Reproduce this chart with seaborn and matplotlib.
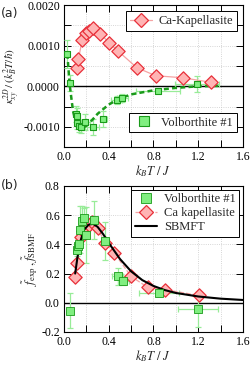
import numpy as np
import pandas as pd
import matplotlib
matplotlib.use("Agg")
import matplotlib.pyplot as plt
from matplotlib.ticker import MultipleLocator, FormatStrFormatter
from matplotlib.lines import Line2D
import seaborn as sns

# ---------------- data ----------------
# (a) Ca-Kapellasite
ca_top_x = [0.114, 0.129, 0.162, 0.197, 0.227, 0.262, 0.324, 0.404, 0.487, 0.65, 0.82, 1.06, 1.31]
ca_top_y = [0.00044, 0.00067, 0.00113, 0.00132, 0.00136, 0.00143, 0.00130, 0.00107, 0.00086,
            0.00046, 0.00026, 0.00021, 0.00010]
# (a) Volborthite #1
vb_top_x = [0.03, 0.05, 0.11, 0.115, 0.12, 0.135, 0.15, 0.19, 0.26, 0.35, 0.47, 0.52, 0.84, 1.19]
vb_top_y = [0.00080, 0.00008, -0.00068, -0.00073, -0.00090, -0.00098, -0.00100, -0.00088,
            -0.00100, -0.00080, -0.00033, -0.00028, -0.00012, 0.00005]
vb_top_yerr = [0.00035, 0.00020, 0.00020, 0.00020, 0.00015, 0.00015, 0.00015, 0.00020,
               0.00020, 0.00020, 0.00010, 0.00010, 0.00005, 0.00020]
vb_top_xerr = [0, 0, 0, 0, 0, 0, 0, 0.04, 0.05, 0.03, 0.05, 0.05, 0.20, 0.20]
# (a) dashed guide curve for Volborthite
vb_fit_x = [0.03, 0.05, 0.08, 0.11, 0.14, 0.18, 0.23, 0.30, 0.40, 0.50, 0.60, 0.80, 1.00, 1.20, 1.40]
vb_fit_y = [0.00080, 0.00005, -0.00060, -0.00095, -0.00105, -0.00102, -0.00090, -0.00068,
            -0.00045, -0.00030, -0.00020, -0.00010, -0.00004, 0.00000, 0.00001]

# (b) Volborthite #1
vb_bot_x = [0.05, 0.12, 0.125, 0.13, 0.14, 0.16, 0.175, 0.20, 0.27, 0.37, 0.48, 0.53, 0.85, 1.20]
vb_bot_y = [-0.055, 0.36, 0.39, 0.40, 0.50, 0.56, 0.58, 0.465, 0.567, 0.425, 0.18, 0.15, 0.065, -0.045]
vb_bot_yerr = [0.12, 0.04, 0.05, 0.05, 0.16, 0.10, 0.07, 0.19, 0.13, 0.13, 0.06, 0.03, 0.02, 0.12]
vb_bot_xerr = [0, 0, 0, 0, 0, 0, 0, 0, 0.03, 0.03, 0.05, 0.05, 0.18, 0.18]
# (b) Ca kapellasite
ca_bot_x = [0.10, 0.12, 0.15, 0.17, 0.19, 0.22, 0.25, 0.30, 0.37, 0.45, 0.60, 0.75, 0.90, 1.21]
ca_bot_y = [0.175, 0.27, 0.45, 0.49, 0.52, 0.53, 0.55, 0.51, 0.41, 0.34, 0.18, 0.105, 0.09, 0.05]
# (b) SBMFT curve
sb_x = [0.10, 0.12, 0.15, 0.18, 0.22, 0.26, 0.30, 0.35, 0.40, 0.50, 0.60, 0.70, 0.80,
        0.90, 1.00, 1.20, 1.40, 1.60]
sb_y = [0.20, 0.31, 0.43, 0.50, 0.535, 0.54, 0.52, 0.47, 0.41, 0.30, 0.215, 0.155, 0.115,
        0.087, 0.067, 0.043, 0.028, 0.019]

# ---------------- style ----------------
sns.set_theme(style="ticks")
plt.rcParams['font.family'] = ['Liberation Serif', 'DejaVu Serif']
plt.rcParams['mathtext.fontset'] = 'stix'
plt.rcParams['axes.linewidth'] = 0.8

RED_E = '#e8303a'
RED_F = '#ffb4b4'
RED_L = '#f5a3a3'
GRN_E = '#1a9a1a'
GRN_F = '#80ee80'
GRN_ERR = '#98ec98'

fig = plt.figure(figsize=(2.51, 3.66), dpi=100)
ax1 = fig.add_axes([0.255, 0.598, 0.713, 0.388])
ax2 = fig.add_axes([0.255, 0.093, 0.713, 0.399])


def style_axes(ax):
    ax.set_xlim(0, 1.6)
    ax.xaxis.set_major_locator(MultipleLocator(0.4))
    ax.xaxis.set_minor_locator(MultipleLocator(0.2))
    ax.xaxis.set_major_formatter(FormatStrFormatter('%.1f'))
    ax.tick_params(which='both', direction='in', top=True, right=True, labelsize=8.5,
                   length=5, width=0.7, pad=3, colors='black')
    ax.tick_params(which='minor', length=5)
    ax.grid(which='both', linestyle=':', color='#c8c8c8', linewidth=0.6)
    ax.set_axisbelow(True)
    for s in ax.spines.values():
        s.set_color('black')
    ax.set_xlabel(r'$k_BT\ /\ J$', fontsize=9, labelpad=0)


# ---------------- panel (a) ----------------
ax = ax1
style_axes(ax)
ax.set_ylim(-0.0015, 0.0020)
ax.yaxis.set_major_locator(MultipleLocator(0.001))
ax.yaxis.set_minor_locator(MultipleLocator(0.0005))
ax.yaxis.set_major_formatter(FormatStrFormatter('%.4f'))
ax.axhline(0, color='black', lw=1.0, zorder=2)

ax.errorbar(vb_top_x, vb_top_y, yerr=vb_top_yerr, xerr=vb_top_xerr, fmt='none',
            ecolor=GRN_ERR, elinewidth=0.9, capsize=2, capthick=0.9, zorder=3)
sns.lineplot(x=vb_fit_x, y=vb_fit_y, ax=ax, color=GRN_E, lw=1.8, linestyle=(0, (2.0, 1.3)),
             sort=False, zorder=4)
sns.lineplot(x=ca_top_x, y=ca_top_y, ax=ax, color=RED_L, lw=0.9, sort=False, zorder=4)
sns.scatterplot(x=ca_top_x, y=ca_top_y, ax=ax, marker='D', s=46, color=RED_F,
                edgecolor=RED_E, linewidth=0.9, zorder=5)
sns.scatterplot(x=vb_top_x, y=vb_top_y, ax=ax, marker='s', s=18, color=GRN_F,
                edgecolor=GRN_E, linewidth=0.8, zorder=6)

ax.set_ylabel(r'$\kappa_{xy}^{2D}\,/\,(k_B^2T/\hbar)$', fontsize=8, labelpad=1)

h_ca = Line2D([], [], color=RED_L, lw=0.9, marker='D', ms=7.5, mfc=RED_F, mec=RED_E, mew=0.9)
h_vb = Line2D([], [], color='none', marker='s', ms=6.5, mfc=GRN_F, mec=GRN_E, mew=0.8, lw=0)
leg1 = ax.legend([h_ca], ['Ca-Kapellasite'], loc='upper right', fontsize=9,
                 frameon=True, fancybox=False, edgecolor='black', framealpha=1,
                 borderaxespad=0.5, handlelength=1.8, handletextpad=0.5, borderpad=0.3)
leg1.get_frame().set_linewidth(0.7)
ax.add_artist(leg1)
leg2 = ax.legend([h_vb], ['Volborthite #1'], loc='lower right', fontsize=9,
                 frameon=True, fancybox=False, edgecolor='black', framealpha=1,
                 borderaxespad=0.5, handlelength=1.8, handletextpad=0.5, borderpad=0.3,
                 bbox_to_anchor=(1.0, 0.06))
leg2.get_frame().set_linewidth(0.7)

# ---------------- panel (b) ----------------
ax = ax2
style_axes(ax)
ax.set_ylim(-0.2, 0.8)
ax.yaxis.set_major_locator(MultipleLocator(0.2))
ax.yaxis.set_minor_locator(MultipleLocator(0.2))
ax.yaxis.set_major_formatter(FormatStrFormatter('%.1f'))
ax.axhline(0, color='black', lw=1.0, zorder=2)

ax.errorbar(vb_bot_x, vb_bot_y, yerr=vb_bot_yerr, xerr=vb_bot_xerr, fmt='none',
            ecolor=GRN_ERR, elinewidth=0.9, capsize=2, capthick=0.9, zorder=3)
sns.lineplot(x=ca_bot_x, y=ca_bot_y, ax=ax, color=RED_L, lw=0.9, linestyle='--',
             sort=False, zorder=4)
sns.scatterplot(x=ca_bot_x, y=ca_bot_y, ax=ax, marker='D', s=46, color=RED_F,
                edgecolor=RED_E, linewidth=0.9, zorder=5)
sns.lineplot(x=sb_x, y=sb_y, ax=ax, color='black', lw=1.5, sort=False, zorder=6)
sns.scatterplot(x=vb_bot_x, y=vb_bot_y, ax=ax, marker='s', s=28, color=GRN_F,
                edgecolor=GRN_E, linewidth=0.6, zorder=7)

ax.set_ylabel(r'$\widetilde{f}_{\rm exp}\,,\widetilde{f}_{\rm SBMF}$', fontsize=9, labelpad=1)

h_vb2 = Line2D([], [], color='none', marker='s', ms=7, mfc=GRN_F, mec=GRN_E, mew=0.6, lw=0)
h_ca2 = Line2D([], [], color=RED_L, lw=0.9, ls='--', marker='D', ms=7.5, mfc=RED_F, mec=RED_E, mew=0.9)
h_sb = Line2D([], [], color='black', lw=1.5)
leg3 = ax.legend([h_vb2, h_ca2, h_sb], ['Volborthite #1', 'Ca kapellasite', 'SBMFT'],
                 loc='upper right', fontsize=9, frameon=True, fancybox=False,
                 edgecolor='black', framealpha=1, borderaxespad=0.3, handlelength=1.8,
                 handletextpad=0.5, borderpad=0.3, labelspacing=0.15)
leg3.get_frame().set_linewidth(0.7)

fig.text(0.005, 0.982, '(a)', fontsize=9, family='DejaVu Sans', va='top', ha='left')
fig.text(0.005, 0.512, '(b)', fontsize=9, family='DejaVu Sans', va='top', ha='left')

fig.savefig('out.png', dpi=100)
